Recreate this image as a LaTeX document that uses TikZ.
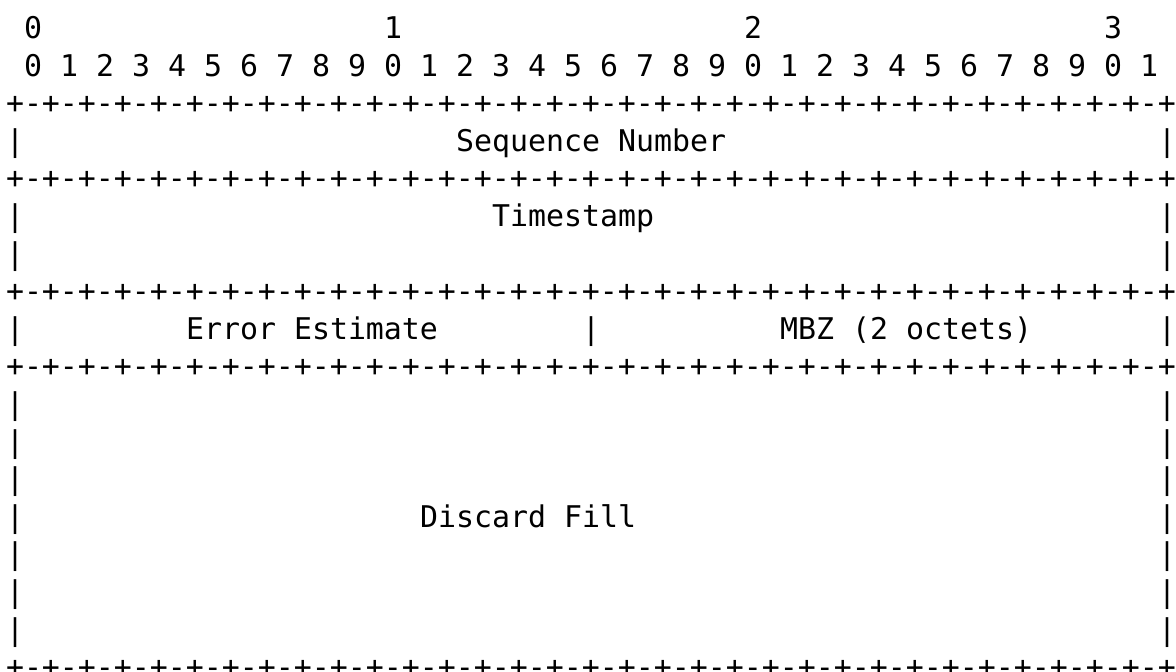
\documentclass[tikz,border=0pt]{standalone}
\usepackage{fontspec}
\setmonofont{DejaVu Sans Mono}
\begin{document}
\begin{tikzpicture}[x=1pt,y=1pt,
  txt/.style={anchor=base west, inner sep=0pt, outer sep=0pt, text=black,
    font=\ttfamily\fontsize{29.9}{36}\selectfont}]
\useasboundingbox (0,0) rectangle (1176,-672);
\newcommand\putat[4]{\node[txt] (#1) at ({6+18*(#2)},{-(38.5+37.6*((#3)-1))}) {#4};}
\def\eightp{-+-+-+-+-+-+-+-+}
\newcommand\seprow[2]{\putat{#1}{0}{#2}{+\eightp\eightp\eightp\eightp}}
% ruler
\putat{hA}{1}{1}{0}
\putat{hB}{21}{1}{1}
\putat{hC}{41}{1}{2}
\putat{hD}{61}{1}{3}
\foreach \i in {0,...,31}{
  \pgfmathtruncatemacro{\d}{mod(\i,10)}
  \pgfmathtruncatemacro{\c}{1+2*\i}
  \putat{bit\i}{\c}{2}{\d}
}
% separators
\seprow{sA}{3}
\seprow{sB}{5}
\seprow{sC}{8}
\seprow{sD}{10}
\seprow{sE}{18}
% side bars
\foreach \l in {4,6,7,9,11,12,13,14,15,16,17}{
  \putat{L\l}{0}{\l}{|}
  \putat{R\l}{64}{\l}{|}
}
\putat{M9}{32}{9}{|}
% field labels
\putat{seq}{25}{4}{Sequence Number}
\putat{ts}{27}{6}{Timestamp}
\putat{err}{10}{9}{Error Estimate}
\putat{mbz}{43}{9}{MBZ (2 octets)}
\putat{fill}{23}{14}{Discard Fill}
\end{tikzpicture}
\end{document}
